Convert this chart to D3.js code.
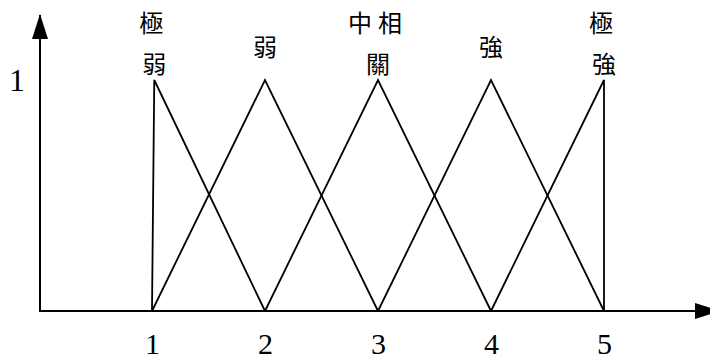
<!DOCTYPE html>
<html>
<head>
<meta charset="utf-8">
<script src="https://cdn.jsdelivr.net/npm/d3@7"></script>
<style>
    body { margin: 0; background: #fff; }
    svg { display: block; }
</style>
</head>
<body>
<div id="chart-area"></div>
<script>
// membership functions: left foot, peak, right foot
var categories = ["極弱", "弱", "中相關", "強", "極強"];
var labelLines = [["極", "弱"], ["弱"], ["中相", "關"], ["強"], ["極", "強"]];
var lefts = [1, 1, 2, 3, 4];
var peaks = [1.02, 2, 3, 4, 5];
var rights = [2, 3, 4, 5, 5];
var xTicks = [1, 2, 3, 4, 5];
var yTicks = [1];

var width = 710, height = 360;

var svg = d3.select("#chart-area").append("svg")
    .attr("width", width)
    .attr("height", height);

var x = d3.scaleLinear()
    .domain([0, 5])
    .range([39, 604]);

var y = d3.scaleLinear()
    .domain([0, 1])
    .range([311, 80]);

// arrow heads
var defs = svg.append("defs");
defs.append("marker")
    .attr("id", "arrow")
    .attr("viewBox", "0 0 25 16")
    .attr("refX", 24)
    .attr("refY", 8)
    .attr("markerWidth", 25)
    .attr("markerHeight", 16)
    .attr("markerUnits", "userSpaceOnUse")
    .attr("orient", "auto")
    .append("path")
    .attr("d", "M0,0 L25,8 L0,16 Z")
    .attr("fill", "#000");

// axes lines
svg.append("line")
    .attr("x1", x(0) + 1).attr("y1", y(0))
    .attr("x2", 719).attr("y2", y(0))
    .attr("stroke", "#000")
    .attr("stroke-width", 2)
    .attr("marker-end", "url(#arrow)");

svg.append("line")
    .attr("x1", x(0) + 1).attr("y1", y(0) + 1)
    .attr("x2", x(0) + 1).attr("y2", 15)
    .attr("stroke", "#000")
    .attr("stroke-width", 2)
    .attr("marker-end", "url(#arrow)");

// tick labels
var xAxis = d3.axisBottom(x)
    .tickValues(xTicks)
    .tickSize(0)
    .tickPadding(22)
    .tickFormat(d3.format("d"));

var gx = svg.append("g")
    .attr("transform", "translate(0," + y(0) + ")")
    .call(xAxis);
gx.select(".domain").remove();
gx.selectAll("text")
    .attr("dy", null)
    .attr("y", 43)
    .attr("font-family", "'Liberation Serif', serif")
    .attr("font-size", 30)
    .attr("fill", "#000");

var yAxis = d3.axisLeft(y)
    .tickValues(yTicks)
    .tickSize(0)
    .tickPadding(14)
    .tickFormat(d3.format("d"));

var gy = svg.append("g")
    .attr("transform", "translate(" + x(0) + ",0)")
    .call(yAxis);
gy.select(".domain").remove();
gy.selectAll("text")
    .attr("dy", null)
    .attr("y", 10)
    .attr("font-family", "'Liberation Serif', serif")
    .attr("font-size", 32)
    .attr("fill", "#000");

// triangles
var line = d3.line()
    .x(d => x(d[0]))
    .y(d => y(d[1]));

categories.forEach((c, i) => {
    svg.append("path")
        .attr("d", line([[lefts[i], 0], [peaks[i], 1], [rights[i], 0]]))
        .attr("fill", "none")
        .attr("stroke", "#000")
        .attr("stroke-width", 1.8)
        .attr("stroke-linejoin", "miter");
});

// category labels above peaks
var lineY = { 1: [45], 2: [21, 62] };

labelLines.forEach((lines, i) => {
    lines.forEach((t, j) => {
        svg.append("text")
            .attr("x", x(peaks[i]) - (lines.length == 2 && j == 0 && t.length == 1 ? 3 : 0))
            .attr("y", lineY[lines.length][j])
            .attr("text-anchor", "middle")
            .attr("dominant-baseline", "central")
            .attr("font-family", "'Noto Sans CJK TC', sans-serif")
            .attr("font-size", 24)
            .attr("letter-spacing", t.length > 1 ? 6 : 0)
            .attr("fill", "#000")
            .text(t);
    });
});
</script>
</body>
</html>
